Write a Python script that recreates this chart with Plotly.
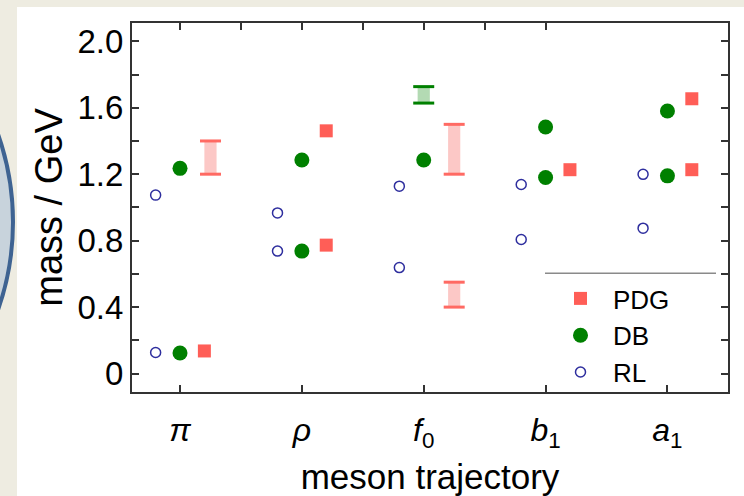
import plotly.graph_objects as go

# ---------------- data ----------------
categories = ["π", "ρ", "f0", "b1", "a1"]
tick_labels = ["<i>π</i>", "<i>ρ</i>", "<i>f</i><sub>0</sub>",
               "<i>b</i><sub>1</sub>", "<i>a</i><sub>1</sub>"]

rl_cat = [0, 0, 1, 1, 2, 2, 3, 3, 4, 4]
rl_mass = [0.127, 1.074, 0.737, 0.967, 0.638, 1.128, 0.807, 1.138, 0.875, 1.199]

db_cat = [0, 0, 1, 1, 2, 3, 3, 4, 4]
db_mass = [0.124, 1.235, 0.737, 1.285, 1.285, 1.180, 1.484, 1.190, 1.580]

pdg_cat = [0, 1, 1, 3, 4, 4]
pdg_mass = [0.136, 0.773, 1.461, 1.227, 1.227, 1.654]

pdg_band_cat = [0, 2, 2]
pdg_band_low = [1.20, 0.40, 1.20]
pdg_band_high = [1.40, 0.55, 1.50]

db_band_cat = [2]
db_band_low = [1.628]
db_band_high = [1.727]

y_tick_vals = [0, 0.2, 0.4, 0.6, 0.8, 1.0, 1.2, 1.4, 1.6, 1.8, 2.0]
y_tick_text = ["0", "", "0.4", "", "0.8", "", "1.2", "", "1.6", "", "2.0"]
x_top_ticks = [0, 0.5, 1, 1.5, 2, 2.5, 3]

# ---------------- style ----------------
FONT = "Liberation Sans, Arial, sans-serif"
W, H = 744, 496
ML, MR, MT, MB = 132, 16, 23, 104
PW, PH = W - ML - MR, H - MT - MB

def px_x(p):
    return (p - ML) / PW

def px_y(p):
    return (H - MB - p) / PH

OFF_RL, OFF_DB, OFF_PDG, OFF_PDGBAND = -0.2, 0.0, 0.2, 0.25
PDG_COL = "#FF5E57"
PDG_CAP = "#FF6A63"
PDG_FILL = "#FCC8C6"
DB_COL = "#008000"
DB_FILL = "#B3DAB3"
RL_COL = "#2E2E9E"

fig = go.Figure()

# bands (fill)
fig.add_trace(go.Bar(
    x=[c + OFF_PDGBAND for c in pdg_band_cat],
    y=[h - l for l, h in zip(pdg_band_low, pdg_band_high)],
    base=pdg_band_low, width=0.1,
    marker=dict(color=PDG_FILL, line=dict(width=0)),
    showlegend=False, hoverinfo="skip"))
fig.add_trace(go.Bar(
    x=[c + OFF_DB for c in db_band_cat],
    y=[h - l for l, h in zip(db_band_low, db_band_high)],
    base=db_band_low, width=0.1,
    marker=dict(color=DB_FILL, line=dict(width=0)),
    showlegend=False, hoverinfo="skip"))
# band caps
fig.add_trace(go.Scatter(
    x=[c + OFF_PDGBAND for c in pdg_band_cat] * 2,
    y=pdg_band_low + pdg_band_high, mode="markers",
    marker=dict(symbol="line-ew", size=15, line=dict(width=3, color=PDG_CAP)),
    showlegend=False, hoverinfo="skip"))
fig.add_trace(go.Scatter(
    x=[c + OFF_DB for c in db_band_cat] * 2,
    y=db_band_low + db_band_high, mode="markers",
    marker=dict(symbol="line-ew", size=15, line=dict(width=3, color=DB_COL)),
    showlegend=False, hoverinfo="skip"))

# points
fig.add_trace(go.Scatter(
    x=[c + OFF_PDG for c in pdg_cat], y=pdg_mass, mode="markers", name="PDG",
    marker=dict(symbol="square", size=13, color=PDG_COL, line=dict(width=0))))
fig.add_trace(go.Scatter(
    x=[c + OFF_DB for c in db_cat], y=db_mass, mode="markers", name="DB",
    marker=dict(symbol="circle", size=15, color=DB_COL, line=dict(width=0))))
fig.add_trace(go.Scatter(
    x=[c + OFF_RL for c in rl_cat], y=rl_mass, mode="markers", name="RL",
    marker=dict(symbol="circle-open", size=10, color=RL_COL, line=dict(width=1.5, color=RL_COL))))

# dummy trace for secondary axes
fig.add_trace(go.Scatter(x=[None], y=[None], xaxis="x2", yaxis="y2",
                         showlegend=False, hoverinfo="skip"))

XR = [-0.394, 4.497]
YR = [-0.111, 2.11]
LINE_COL = "#333333"

fig.update_layout(
    width=W, height=H,
    margin=dict(l=ML, r=MR, t=MT, b=MB, autoexpand=False),
    paper_bgcolor="#EEECE1", plot_bgcolor="white",
    barmode="overlay",
    font=dict(family=FONT, color="black"),
    xaxis=dict(range=XR, tickvals=list(range(len(categories))), ticktext=tick_labels,
               ticks="inside", ticklen=7, tickwidth=1.5, tickcolor=LINE_COL,
               showline=True, linewidth=2, linecolor=LINE_COL, mirror=True,
               showgrid=False, zeroline=False, ticklabelstandoff=9,
               tickfont=dict(size=32, family=FONT),
               title=dict(text="meson trajectory", font=dict(size=35, family=FONT), standoff=13),
               automargin=False),
    yaxis=dict(range=YR, tickvals=y_tick_vals, ticktext=y_tick_text,
               ticks="inside", ticklen=7, tickwidth=1.5, tickcolor=LINE_COL,
               showline=True, linewidth=2, linecolor=LINE_COL, mirror=True,
               showgrid=False, zeroline=False,
               tickfont=dict(size=33, family=FONT),
               title=dict(text="mass / GeV", font=dict(size=38, family=FONT), standoff=3),
               automargin=False),
    xaxis2=dict(range=XR, overlaying="x", side="top", anchor="y",
                tickvals=x_top_ticks, ticks="inside", ticklen=7, tickwidth=1.5,
                tickcolor=LINE_COL, showticklabels=False, showline=False,
                showgrid=False, zeroline=False),
    yaxis2=dict(range=YR, overlaying="y", side="right", anchor="x",
                tickvals=y_tick_vals, ticks="inside", ticklen=7, tickwidth=1.5,
                tickcolor=LINE_COL, showticklabels=False, showline=False,
                showgrid=False, zeroline=False),
    legend=dict(x=px_x(548), y=px_y(275), xanchor="left", yanchor="top",
                bgcolor="rgba(0,0,0,0)", borderwidth=0, itemwidth=55,
                font=dict(size=26, family=FONT), traceorder="normal"),
    shapes=[
        dict(type="rect", xref="paper", yref="paper", layer="below",
             x0=px_x(17), x1=px_x(W + 5), y0=px_y(7), y1=px_y(H + 5),
             fillcolor="white", line=dict(width=0)),
        dict(type="circle", xref="paper", yref="paper", layer="below",
             x0=px_x(-517), x1=px_x(13), y0=px_y(222 - 265), y1=px_y(222 + 265),
             fillcolor="#C8D3DC", line=dict(width=4, color="#3E6392")),
        dict(type="line", xref="paper", yref="paper", layer="above",
             x0=px_x(545), x1=px_x(716), y0=px_y(273.3), y1=px_y(273.3),
             line=dict(width=1.5, color="#8A8A8A")),
    ],
)

fig.write_html("out.html")
